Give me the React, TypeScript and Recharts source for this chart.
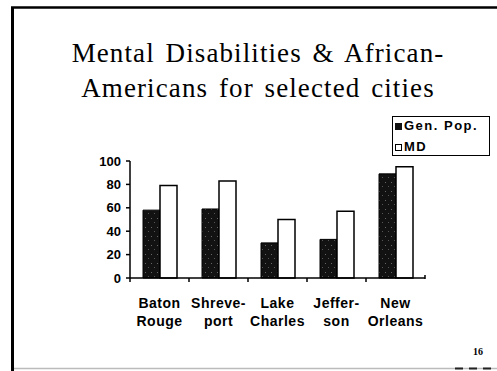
import React from "react";
import { BarChart, Bar, XAxis, YAxis } from "recharts";

// ---- data ----
const cities = ["Baton Rouge", "Shreveport", "Lake Charles", "Jefferson", "New Orleans"];
const cityLabelLines = [
  ["Baton", "Rouge"],
  ["Shreve-", "port"],
  ["Lake", "Charles"],
  ["Jeffer-", "son"],
  ["New", "Orleans"],
];
const genPop = [58, 59, 30, 33, 89];
const mdValues = [79, 83, 50, 57, 95];
const yTicks = [0, 20, 40, 60, 80, 100];
const seriesNames = { gen: "Gen. Pop.", md: "MD" };
const titleLines = ["Mental Disabilities & African-", "Americans for selected cities"];
const pageNumber = "16";

const data = cities.map((c, i) => ({ city: c, gen: genPop[i], md: mdValues[i] }));

const SANS = "'Liberation Sans', Arial, Helvetica, sans-serif";
const SERIF = "'Liberation Serif', 'Times New Roman', serif";

const XTick = (props: any) => {
  const { x, y, payload, index } = props;
  const off = payload && payload.offset ? payload.offset : 29.5;
  const lines = cityLabelLines[index] || [String(payload.value)];
  const axisY = y - 4;
  return (
    <g>
      <line x1={x - off} x2={x - off} y1={axisY} y2={axisY + 4} stroke="#000" strokeWidth={1.5} />
      {index === cities.length - 1 ? (
        <line x1={x + off} x2={x + off} y1={axisY - 3} y2={axisY + 1} stroke="#000" strokeWidth={1.5} />
      ) : null}
      <text
        x={x}
        y={axisY + 30}
        textAnchor="middle"
        fontFamily={SANS}
        fontWeight={700}
        fontSize={14}
        letterSpacing={0.5}
        fill="#000"
      >
        <tspan x={x} dy={0}>{lines[0]}</tspan>
        <tspan x={x} dy={18}>{lines[1]}</tspan>
      </text>
    </g>
  );
};

const LegendBox = () => (
  <div
    style={{
      position: "absolute",
      left: 392,
      top: 116,
      width: 98,
      height: 40,
      border: "1.5px solid #000",
      boxSizing: "border-box",
      background: "#fff",
      fontFamily: SANS,
      fontWeight: 700,
      fontSize: 13,
      letterSpacing: 1.5,
      color: "#000",
    }}
  >
    <div style={{ position: "absolute", left: 2, top: 6, width: 7, height: 7, background: "#111" }} />
    <div style={{ position: "absolute", left: 11, top: 2, lineHeight: "14px", whiteSpace: "nowrap" }}>{seriesNames.gen}</div>
    <div
      style={{
        position: "absolute",
        left: 2,
        top: 27,
        width: 7,
        height: 7,
        border: "1px solid #000",
        boxSizing: "border-box",
        background: "#fff",
      }}
    />
    <div style={{ position: "absolute", left: 11, top: 23, lineHeight: "14px" }}>{seriesNames.md}</div>
  </div>
);

export default function App() {
  return (
    <div style={{ position: "absolute", left: 0, top: 0, width: 497, height: 371, background: "#fff", overflow: "hidden" }}>
      <svg width={497} height={371} style={{ position: "absolute", left: 0, top: 0 }}>
        <line x1={12.5} y1={7} x2={12.5} y2={371} stroke="#000" strokeWidth={3} />
        <line x1={11} y1={7.5} x2={497} y2={7.5} stroke="#000" strokeWidth={2.5} />
        <line x1={14} y1={368.5} x2={497} y2={368.5} stroke="#bbb" strokeWidth={1.5} />
        <line x1={455} y1={368.5} x2={497} y2={368.5} stroke="#222" strokeWidth={2} strokeDasharray="8 6" />
        <text
          x={258}
          y={62}
          textAnchor="middle"
          fontFamily={SERIF}
          fontSize={27}
          letterSpacing={1.1}
          wordSpacing={3}
          fill="#000"
        >
          {titleLines[0]}
        </text>
        <text
          x={258}
          y={97}
          textAnchor="middle"
          fontFamily={SERIF}
          fontSize={27}
          letterSpacing={1.1}
          wordSpacing={3}
          fill="#000"
        >
          {titleLines[1]}
        </text>
        <text x={473} y={355} fontFamily={SERIF} fontWeight={700} fontSize={10} fill="#000">
          {pageNumber}
        </text>
      </svg>
      <div style={{ position: "absolute", left: 0, top: 0 }}>
        <BarChart
          width={497}
          height={371}
          data={data}
          margin={{ top: 161, right: 72, bottom: 43, left: 90 }}
          barGap={0}
          barCategoryGap="21%"
        >
          <defs>
            <pattern id="speckle" width="6" height="9" patternUnits="userSpaceOnUse">
              <rect width="6" height="9" fill="#121212" />
              <rect x="1" y="2" width="1" height="1" fill="#666" />
              <rect x="4" y="6" width="1" height="1" fill="#555" />
            </pattern>
          </defs>
          <XAxis
            dataKey="city"
            height={50}
            interval={0}
            axisLine={{ stroke: "#000", strokeWidth: 1.5 }}
            tickLine={false}
            tickSize={4}
            tickMargin={0}
            tick={<XTick />}
          />
          <YAxis
            width={40}
            domain={[0, 100]}
            ticks={yTicks}
            interval={0}
            axisLine={{ stroke: "#000", strokeWidth: 1.5 }}
            tickLine={{ stroke: "#000", strokeWidth: 1.5 }}
            tickSize={4}
            tickMargin={5}
            tick={{ fill: "#000", fontSize: 13, fontWeight: 700, fontFamily: SANS }}
          />
          <Bar dataKey="gen" name={seriesNames.gen} fill="url(#speckle)" stroke="#000" strokeWidth={1} barSize={17} isAnimationActive={false} />
          <Bar dataKey="md" name={seriesNames.md} fill="#fff" stroke="#000" strokeWidth={1.5} barSize={17} isAnimationActive={false} />
        </BarChart>
      </div>
      <LegendBox />
    </div>
  );
}
